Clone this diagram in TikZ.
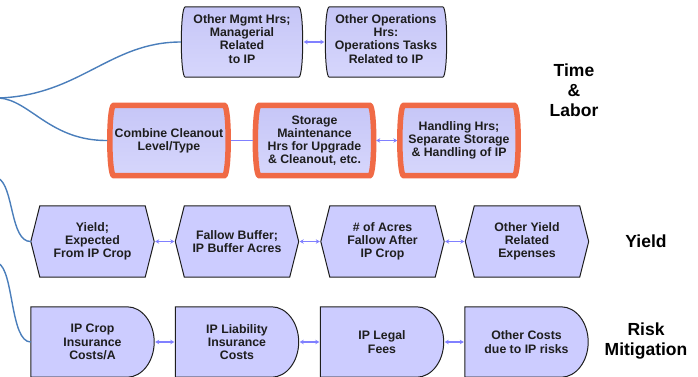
\documentclass[tikz,border=0pt]{standalone}
\usepackage{fontspec}
\setmainfont{Liberation Sans}
\usetikzlibrary{backgrounds,arrows.meta}

\definecolor{lav}{RGB}{204,204,255}
\definecolor{lavtop}{RGB}{198,198,247}
\definecolor{lavbot}{RGB}{214,214,252}
\definecolor{linkblue}{RGB}{128,128,255}
\definecolor{branch}{RGB}{74,126,187}
\definecolor{hilite}{RGB}{240,106,70}
\definecolor{ink}{RGB}{30,30,30}

\tikzset{
  cell/.style={inner sep=0pt, align=center, text=ink,
    font=\fontsize{12.3}{13.2}\selectfont\bfseries},
  cellA/.style={cell, minimum width=121pt, minimum height=70pt},
  cellB/.style={cell, minimum width=118pt, minimum height=70pt},
  cellC/.style={cell, minimum width=123pt, minimum height=71pt},
  cellD/.style={cell, minimum width=123pt, minimum height=70pt},
  caption/.style={align=center, text=black,
    font=\fontsize{17.5}{20}\selectfont\bfseries},
  plainbox/.style={draw=ink, line width=1pt, top color=lavtop, bottom color=lavbot},
  hotbox/.style={draw=hilite, line width=5.5pt, top color=lavtop, bottom color=lavbot},
  flatbox/.style={draw=ink, line width=1pt, fill=lav},
  link/.style={draw=linkblue, line width=1.2pt},
  dlink/.style={link, {Stealth[length=4pt,width=4.5pt]}-{Stealth[length=4pt,width=4.5pt]}},
  feeder/.style={draw=branch, line width=1.4pt}
}

% box whose left and right sides bow outwards
\newcommand\bowshape[2]{%
  \path[#2] ([xshift=4pt]#1.north west) -- ([xshift=-4pt]#1.north east)
    .. controls ([xshift=1.33pt]#1.north east) and ([xshift=1.33pt]#1.south east) .. ([xshift=-4pt]#1.south east)
    -- ([xshift=4pt]#1.south west)
    .. controls ([xshift=-1.33pt]#1.south west) and ([xshift=-1.33pt]#1.north west) .. ([xshift=4pt]#1.north west)
    -- cycle;}
% six-sided box pointed at both ends
\newcommand\hexshape[2]{%
  \path[#2] (#1.west) -- ([xshift=9pt]#1.north west) -- ([xshift=-9pt]#1.north east)
    -- (#1.east) -- ([xshift=-9pt]#1.south east) -- ([xshift=9pt]#1.south west) -- cycle;}
% box with a flat left side and a rounded right end
\newcommand\delayshape[2]{%
  \path[#2] (#1.north west) -- ([xshift=-27pt]#1.north east)
    .. controls ([xshift=-12.1pt]#1.north east) and ([yshift=19.3pt]#1.east) .. (#1.east)
    .. controls ([yshift=-19.3pt]#1.east) and ([xshift=-12.1pt]#1.south east) .. ([xshift=-27pt]#1.south east)
    -- (#1.south west) -- cycle;}

\begin{document}
\begin{tikzpicture}[x=1pt,y=-1pt]
\useasboundingbox (0,0) rectangle (698,376);

% --- Time & Labor
\node[cellA] (mgmt) at (242,42) {Other Mgmt Hrs;\\Managerial\\Related\\to IP\\[-7pt]};
\node[cellA] (ops)  at (386,42) {Other Operations\\Hrs:\\Operations Tasks\\Related to IP\\[-7pt]};
\node[cellB] (comb) at (169,140.5) {Combine Cleanout\\Level/Type};
\node[cellB] (stor) at (314.5,140.5) {Storage\\Maintenance\\Hrs for Upgrade\\\& Cleanout, etc.};
\node[cellB] (hand) at (459,140.5) {Handling Hrs;\\Separate Storage\\\& Handling of IP};

% --- Yield
\node[cellC] (yexp) at (92.5,241.5) {Yield;\\Expected\\From IP Crop};
\node[cellC] (fbuf) at (237,241.5) {Fallow Buffer;\\IP Buffer Acres};
\node[cellC] (facr) at (382.5,241.5) {\# of Acres\\Fallow After\\IP Crop};
\node[cellC] (oyld) at (527,241.5) {Other Yield\\Related\\Expenses};

% --- Risk mitigation
\node[cellD] (cins) at (92.5,342) {IP Crop\\Insurance\\Costs/A};
\node[cellD] (lins) at (237,342) {IP Liability\\Insurance\\Costs};
\node[cellD] (legl) at (382,342) {IP Legal\\Fees};
\node[cellD] (orsk) at (526.5,342) {Other Costs\\due to IP risks};

% --- row captions
\node[caption] (tl)  at (574,90)  {Time\\\&\\Labor};
\node[caption] (yl)  at (646,241) {Yield};
\node[caption] (rm)  at (646,341) {Risk\\Mitigation};

\begin{pgfonlayer}{background}
  \bowshape{mgmt}{plainbox}
  \bowshape{ops}{plainbox}
  \bowshape{comb}{hotbox}
  \bowshape{stor}{hotbox}
  \bowshape{hand}{hotbox}
  \hexshape{yexp}{flatbox}
  \hexshape{fbuf}{flatbox}
  \hexshape{facr}{flatbox}
  \hexshape{oyld}{flatbox}
  \delayshape{cins}{flatbox}
  \delayshape{lins}{flatbox}
  \delayshape{legl}{flatbox}
  \delayshape{orsk}{flatbox}
\end{pgfonlayer}

% links inside each row
\draw[dlink] ([xshift=1pt]mgmt.east) -- ([xshift=-1pt]ops.west);
\draw[link]  ([xshift=2.5pt]comb.east) -- ([xshift=-2.5pt]stor.west);
\draw[dlink] ([xshift=2.5pt]stor.east) -- ([xshift=-2.5pt]hand.west);
\draw[dlink] ([xshift=1pt]yexp.east) -- ([xshift=-1pt]fbuf.west);
\draw[dlink] ([xshift=1pt]fbuf.east) -- ([xshift=-1pt]facr.west);
\draw[dlink] ([xshift=1pt]facr.east) -- ([xshift=-1pt]oyld.west);
\draw[dlink] ([xshift=1pt]cins.east) -- ([xshift=-1pt]lins.west);
\draw[dlink] ([xshift=1pt]lins.east) -- ([xshift=-1pt]legl.west);
\draw[dlink] ([xshift=1pt]legl.east) -- ([xshift=-1pt]orsk.west);

% branches coming in from the left
\coordinate (hubA) at (-1,98);
\coordinate (hubB) at (-2,178);
\coordinate (hubC) at (-2,263);
\draw[feeder] (hubA) .. controls (80,95) and (110,42) .. ([xshift=-0.5pt]mgmt.west);
\draw[feeder] (hubA) .. controls (30,100) and (50,141) .. ([xshift=-2.5pt]comb.west);
\draw[feeder] (hubB) .. controls (14,186) and (10,242) .. (yexp.west);
\draw[feeder] (hubC) .. controls (14,270) and (10,342) .. (cins.west);
\end{tikzpicture}
\end{document}
